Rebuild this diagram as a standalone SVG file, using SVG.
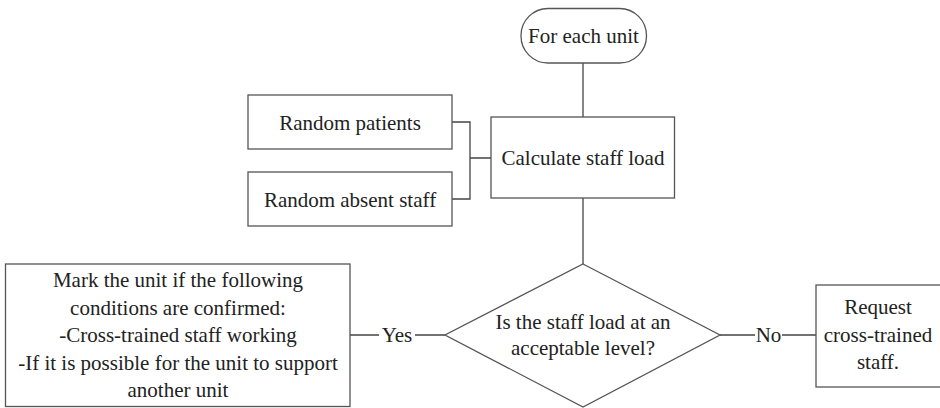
<svg xmlns="http://www.w3.org/2000/svg" width="940" height="408" viewBox="0 0 940 408">
<rect width="940" height="408" fill="#fff"/>
<g id="connectors" fill="none" stroke="#444" stroke-width="1.3">
<path d="M583 63V117"/>
<path d="M583 198V264"/>
<path d="M452 122H470V199H452M470 158H491"/>
<path d="M445 335H415M379 335H350"/>
<path d="M720 335H755M782 335H816"/>
</g>
<g id="labels">
<text x="397" y="342" font-family="Liberation Serif" font-size="21" fill="#222" text-anchor="middle">Yes</text>
<text x="768.5" y="342" font-family="Liberation Serif" font-size="21" fill="#222" text-anchor="middle">No</text>
</g>
<g id="start">
<rect x="521" y="8.5" width="125.5" height="54.5" rx="27" ry="27" fill="#fff" stroke="#555" stroke-width="1.3"/>
<text x="583.5" y="43" font-family="Liberation Serif" font-size="21" fill="#222" text-anchor="middle">For each unit</text>
</g>
<g id="random-patients">
<rect x="248" y="95" width="204" height="54" fill="#fff" stroke="#555" stroke-width="1.3"/>
<text x="350" y="130" font-family="Liberation Serif" font-size="21" fill="#222" text-anchor="middle">Random patients</text>
</g>
<g id="random-absent">
<rect x="248" y="172" width="204" height="54" fill="#fff" stroke="#555" stroke-width="1.3"/>
<text x="350" y="207" font-family="Liberation Serif" font-size="21" fill="#222" text-anchor="middle">Random absent staff</text>
</g>
<g id="calculate">
<rect x="491" y="117" width="183.5" height="81" fill="#fff" stroke="#555" stroke-width="1.3"/>
<text x="583" y="164.5" font-family="Liberation Serif" font-size="21" fill="#222" text-anchor="middle">Calculate staff load</text>
</g>
<g id="decision">
<polygon points="583,264 720,335 583,407 445,335" fill="#fff" stroke="#555" stroke-width="1.3"/>
<text x="583" y="329" font-family="Liberation Serif" font-size="21" fill="#222" text-anchor="middle">Is the staff load at an</text>
<text x="583" y="355" font-family="Liberation Serif" font-size="21" fill="#222" text-anchor="middle">acceptable level?</text>
</g>
<g id="mark">
<rect x="5.5" y="264" width="344.5" height="142.5" fill="#fff" stroke="#555" stroke-width="1.3"/>
<text x="178" y="287" font-family="Liberation Serif" font-size="21" fill="#222" text-anchor="middle">Mark the unit if the following</text>
<text x="178" y="314.5" font-family="Liberation Serif" font-size="21" fill="#222" text-anchor="middle">conditions are confirmed:</text>
<text x="178" y="342" font-family="Liberation Serif" font-size="21" fill="#222" text-anchor="middle">-Cross-trained staff working</text>
<text x="178" y="369.5" font-family="Liberation Serif" font-size="21" fill="#222" text-anchor="middle">-If it is possible for the unit to support</text>
<text x="178" y="397" font-family="Liberation Serif" font-size="21" fill="#222" text-anchor="middle">another unit</text>
</g>
<g id="request">
<rect x="816" y="285" width="130" height="102" fill="#fff" stroke="#555" stroke-width="1.3"/>
<text x="878" y="314" font-family="Liberation Serif" font-size="21" fill="#222" text-anchor="middle">Request</text>
<text x="878" y="341.5" font-family="Liberation Serif" font-size="21" fill="#222" text-anchor="middle">cross-trained</text>
<text x="878" y="369" font-family="Liberation Serif" font-size="21" fill="#222" text-anchor="middle">staff.</text>
</g>
</svg>
